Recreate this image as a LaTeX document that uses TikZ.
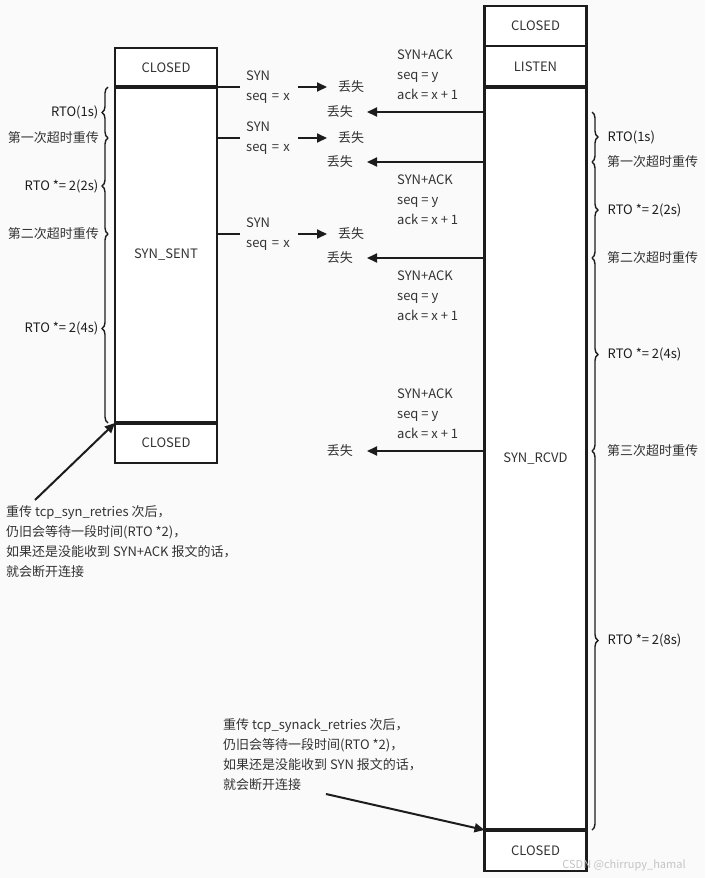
\documentclass[tikz,border=0pt]{standalone}
\usepackage{fontspec}
\setmainfont{Noto Sans CJK SC}
\usetikzlibrary{arrows.meta, positioning, decorations.pathreplacing}
\definecolor{tcpline}{HTML}{1C1C1C}
\definecolor{tcptext}{HTML}{333333}
\definecolor{tcpbg}{HTML}{FAFAFA}
\definecolor{tcpmark}{HTML}{C4C4C4}

\begin{document}
\begin{tikzpicture}[
    x=1pt, y=-1pt,
    font=\fontsize{13}{20}\selectfont,
    text=tcptext,
    state/.style={draw=tcpline, fill=white, line width=2.2pt, outer sep=0pt,
                  minimum width=102pt, inner sep=0pt},
    sepline/.style={tcpline, line width=4pt},
    wire/.style={tcpline, line width=2pt},
    arr/.style={-{Triangle[length=10pt, width=9pt]}, tcpline, line width=2pt},
    msg/.style={align=left, text width=46pt, inner xsep=6pt, inner ysep=0pt},
    pkt/.style={align=left, inner sep=0pt},
    lost/.style={inner ysep=0pt},
    rbrace/.style={tcpline, line width=1.4pt, decorate,
                   decoration={brace, amplitude=6pt}},
    lbl/.style={inner sep=0pt},
  ]
    \fill[tcpbg] (0,0) rectangle (705,878);
    \useasboundingbox (0,0) rectangle (705,878);

    % client column
    \node[state, minimum height=39pt] (lc1) at (166,67.5) {CLOSED};
    \node[state, below=0pt of lc1, minimum height=336pt] (sent) {SYN\_SENT};
    \node[state, below=0pt of sent, minimum height=40pt] (lc2) {CLOSED};
    \draw[sepline] (sent.north west) -- (sent.north east);
    \draw[sepline] (sent.south west) -- (sent.south east);

    % server column
    \node[state, minimum height=40pt] (rc1) at (535.5,26) {CLOSED};
    \node[state, below=0pt of rc1, minimum height=41pt] (listen) {LISTEN};
    \node[state, below=0pt of listen, minimum height=743pt] (rcvd) {SYN\_RCVD};
    \node[state, below=0pt of rcvd, minimum height=41pt] (rc2) {CLOSED};
    \draw[sepline] (rcvd.north west) -- (rcvd.north east);
    \draw[sepline] (rcvd.south west) -- (rcvd.south east);

    % SYN from client, all lost
    \node[msg, anchor=west] (syn1) at (240,87)  {SYN\\seq = x};
    \node[msg, anchor=west] (syn2) at (240,138) {SYN\\seq = x};
    \node[msg, anchor=west] (syn3) at (240,234) {SYN\\seq = x};
    \node[lost, anchor=west, inner xsep=11pt] (lost1) at (327,87)  {丢失};
    \node[lost, anchor=west, inner xsep=11pt] (lost2) at (327,138) {丢失};
    \node[lost, anchor=west, inner xsep=11pt] (lost3) at (327,234) {丢失};
    \draw[wire] (syn1.west -| sent.east) -- (syn1.west);
    \draw[wire] (syn2.west -| sent.east) -- (syn2.west);
    \draw[wire] (syn3.west -| sent.east) -- (syn3.west);
    \draw[arr] (syn1.east) -- (lost1.west);
    \draw[arr] (syn2.east) -- (lost2.west);
    \draw[arr] (syn3.east) -- (lost3.west);

    % SYN+ACK from server, all lost
    \node[pkt, anchor=west] (ack1) at (397,75)  {SYN+ACK\\seq = y\\ack = x + 1};
    \node[pkt, anchor=west] (ack2) at (397,200) {SYN+ACK\\seq = y\\ack = x + 1};
    \node[pkt, anchor=west] (ack3) at (397,296) {SYN+ACK\\seq = y\\ack = x + 1};
    \node[pkt, anchor=west] (ack4) at (397,414) {SYN+ACK\\seq = y\\ack = x + 1};
    \node[lost, anchor=east, inner xsep=14pt] (back1) at (367,112) {丢失};
    \node[lost, anchor=east, inner xsep=14pt] (back2) at (367,162) {丢失};
    \node[lost, anchor=east, inner xsep=14pt] (back3) at (367,258) {丢失};
    \node[lost, anchor=east, inner xsep=14pt] (back4) at (367,451) {丢失};
    \draw[arr] (back1 -| rcvd.west) -- (back1.east);
    \draw[arr] (back2 -| rcvd.west) -- (back2.east);
    \draw[arr] (back3 -| rcvd.west) -- (back3.east);
    \draw[arr] (back4 -| rcvd.west) -- (back4.east);

    % client timers
    \draw[rbrace] (108,138) -- node[lbl, left=9pt] {RTO(1s)} (108,87);
    \draw[rbrace] (108,234) -- node[lbl, left=9pt] {RTO *= 2(2s)} (108,138);
    \draw[rbrace] (108,423) -- node[lbl, left=9pt] {RTO *= 2(4s)} (108,234);
    \node[lbl, anchor=east] (lt1) at (99,138) {第一次超时重传};
    \node[lbl, anchor=east] (lt2) at (99,234) {第二次超时重传};

    % server timers
    \draw[rbrace] (592,112) -- node[lbl, right=15pt] {RTO(1s)} (592,162);
    \draw[rbrace] (592,162) -- node[lbl, right=15pt] {RTO *= 2(2s)} (592,258);
    \draw[rbrace] (592,258) -- node[lbl, right=15pt] {RTO *= 2(4s)} (592,451);
    \draw[rbrace] (592,451) -- node[lbl, right=15pt] {RTO *= 2(8s)} (592,830);
    \node[lbl, anchor=west] (rt1) at (607,162) {第一次超时重传};
    \node[lbl, anchor=west] (rt2) at (607,258) {第二次超时重传};
    \node[lbl, anchor=west] (rt3) at (607,451) {第三次超时重传};

    % notes on giving up
    \node[pkt, anchor=west] (note1) at (6,542)
      {重传 tcp\_syn\_retries 次后，\\仍旧会等待一段时间(RTO *2)，\\如果还是没能收到 SYN+ACK 报文的话，\\就会断开连接};
    \coordinate (n1) at (35,500);
    \draw[arr] (n1) -- (lc2.north west);

    \node[pkt, anchor=west] (note2) at (223,755)
      {重传 tcp\_synack\_retries 次后，\\仍旧会等待一段时间(RTO *2)，\\如果还是没能收到 SYN 报文的话，\\就会断开连接};
    \coordinate (n2) at (326,794);
    \draw[arr] (n2) -- (rc2.north west);

    \node[lbl, text=tcpmark, font=\fontsize{11}{13}\selectfont] (mark) at (624,865)
      {CSDN @chirrupy\_hamal};
  \end{tikzpicture}
\end{document}
